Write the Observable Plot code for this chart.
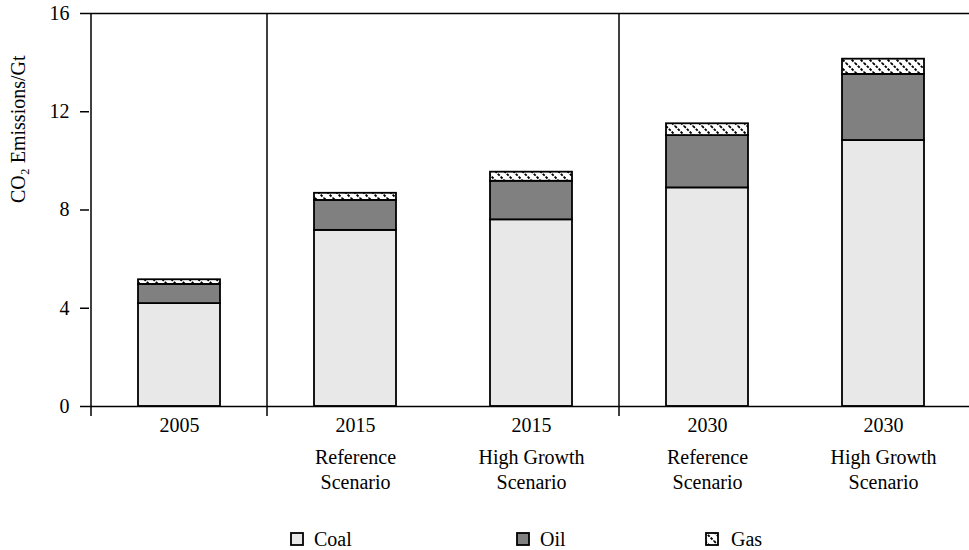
<!DOCTYPE html>
<html><head><meta charset="utf-8">
<script src="https://cdn.jsdelivr.net/npm/d3@7"></script>
<script src="https://cdn.jsdelivr.net/npm/@observablehq/plot@0.6"></script>
<style>
body{margin:0;background:#fff;font-family:"Liberation Serif","Times New Roman",serif;}
#legend{position:relative;width:969px;height:25px;font-size:20px;color:#000;}
.item{position:absolute;top:1px;height:26px;display:flex;align-items:center;}
.item svg{display:block;}
</style></head><body><div id="chart"></div><div id="legend"></div>
<script>
const categories = ["2005", "2015 Ref", "2015 HG", "2030 Ref", "2030 HG"];
const years = ["2005", "2015", "2015", "2030", "2030"];
const scenarioLine1 = ["", "Reference", "High Growth", "Reference", "High Growth"];
const scenarioLine2 = ["", "Scenario", "Scenario", "Scenario", "Scenario"];
const groupStarts = ["2005", "2015 Ref", "2030 Ref"];
const fuels = ["Coal", "Oil", "Gas"];
const coal = [4.19, 7.17, 7.60, 8.90, 10.83];
const oil = [0.78, 1.22, 1.57, 2.13, 2.69];
const gas = [0.19, 0.29, 0.37, 0.48, 0.62];
const yTicks = [0, 4, 8, 12, 16];
const yLabel = "CO₂ Emissions/Gt";

const series = {Coal: coal, Oil: oil, Gas: gas};
const rows = [];
categories.forEach((c, i) => fuels.forEach(f => rows.push({cat: c, fuel: f, value: series[f][i]})));

function separators(index, scales, values, dimensions) {
  const x = scales.x;
  const top = dimensions.marginTop;
  const bottom = dimensions.height - dimensions.marginBottom;
  const g = d3.create("svg:g").attr("stroke", "#000").attr("stroke-width", 1.5);
  for (const c of groupStarts) {
    const px = x(c);
    g.append("line").attr("x1", px).attr("x2", px).attr("y1", top).attr("y2", bottom + 10);
  }
  return g.node();
}

const chart = Plot.plot({
  width: 969,
  height: 525,
  marginTop: 13,
  marginBottom: 119,
  marginLeft: 89,
  marginRight: -4,
  style: {fontFamily: "'Liberation Serif', 'Times New Roman', serif", fontSize: "20px", color: "#000", background: "#fff"},
  x: {domain: categories, padding: 0, axis: null},
  y: {domain: [0, 16], axis: null},
  color: {type: "ordinal", domain: fuels, range: ["#e8e8e8", "#808080", "url(#gasPattern)"]},
  marks: [
    Plot.barY(rows, {x: "cat", y: "value", fill: "fuel", stroke: "#000", strokeWidth: 1.8, insetLeft: 47, insetRight: 47, order: fuels}),
    Plot.ruleY([0, 16], {stroke: "#000", strokeWidth: 1.5}),
    separators,
    Plot.axisY({ticks: yTicks, tickSize: 9, tickPadding: 11, strokeWidth: 1.5, fontSize: 20, label: null}),
    Plot.text([yLabel], {frameAnchor: "left", dx: -71, dy: -7, rotate: -90, fontSize: 20, text: d => d}),
    Plot.text(categories, {x: d => d, text: (d, i) => years[i], frameAnchor: "bottom", dy: 25, fontSize: 20}),
    Plot.text(categories, {x: d => d, text: (d, i) => scenarioLine1[i], frameAnchor: "bottom", dy: 57, fontSize: 20}),
    Plot.text(categories, {x: d => d, text: (d, i) => scenarioLine2[i], frameAnchor: "bottom", dy: 82, fontSize: 20})
  ]
});

const defs = d3.select(chart).insert("defs", ":first-child");
function addPattern(sel, id) {
  const p = sel.append("pattern").attr("id", id).attr("patternUnits", "userSpaceOnUse").attr("width", 9).attr("height", 9);
  p.append("rect").attr("width", 9).attr("height", 9).attr("fill", "#fff");
  p.append("path").attr("d", "M0,0L9,9M-3,6L3,12M6,-3L12,3")
    .attr("stroke", "#000").attr("stroke-width", 1.9).attr("stroke-dasharray", "2.6 1.4");
}
addPattern(defs, "gasPattern");
document.getElementById("chart").appendChild(chart);

// legend
const legendFills = ["#e8e8e8", "#808080", "url(#gasPatternL)"];
const legendLeft = [290, 516, 705];
const legend = d3.select("#legend");
fuels.forEach((f, i) => {
  const item = legend.append("div").attr("class", "item").style("left", legendLeft[i] + "px");
  const s = item.append("svg").attr("width", 14).attr("height", 14).style("margin-right", i === 2 ? "12px" : "10px");
  if (i === 2) addPattern(s.append("defs"), "gasPatternL");
  s.append("rect").attr("x", 1).attr("y", 1).attr("width", 12).attr("height", 12)
    .attr("fill", legendFills[i]).attr("stroke", "#000").attr("stroke-width", 1.8);
  item.append("span").text(f);
});
</script>
</body></html>
